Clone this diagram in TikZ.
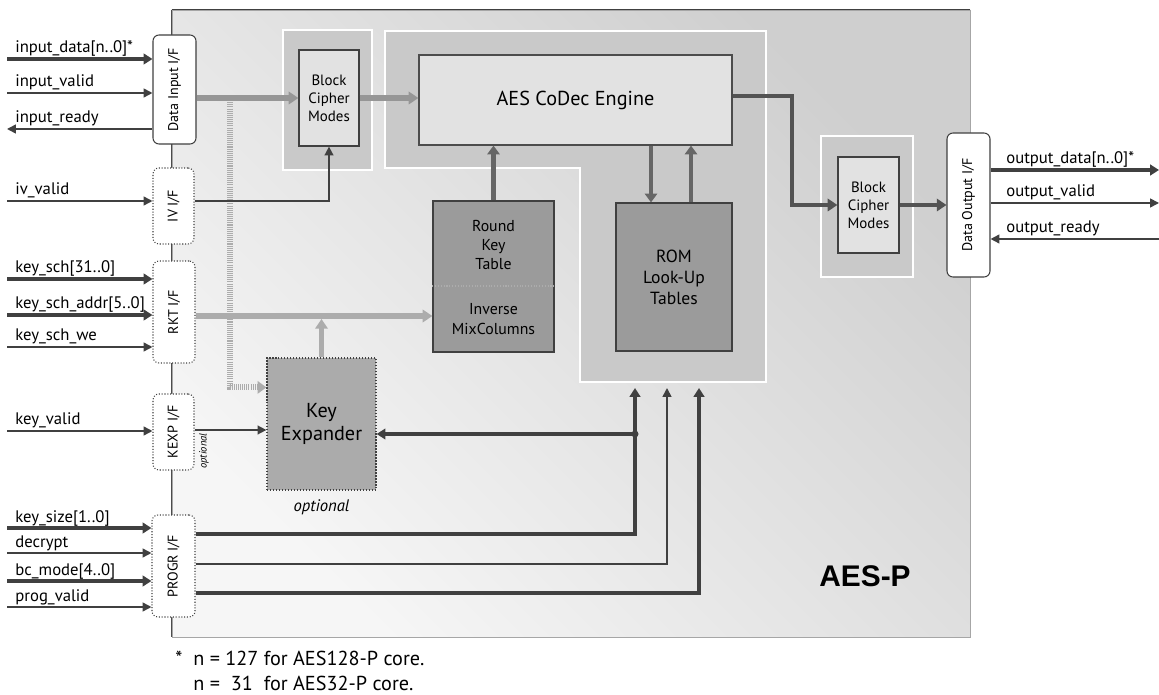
\documentclass[tikz,border=0pt]{standalone}
\usepackage{fontspec}
\setmainfont{PT Sans}
\newfontfamily\arialfont{Liberation Sans}
\usepackage{graphicx}
\usetikzlibrary{arrows.meta,positioning,calc}
\definecolor{wireDark}{RGB}{64,64,64}
\definecolor{pathGray}{RGB}{150,150,150}
\definecolor{keyGray}{RGB}{172,172,172}
\definecolor{engArrow}{RGB}{102,102,102}
\definecolor{regionGray}{RGB}{201,201,201}
\definecolor{lightBox}{RGB}{226,226,226}
\definecolor{darkBox}{RGB}{155,155,155}
\definecolor{kexpGray}{RGB}{171,171,171}
\newdimen\pxu \pxu=0.02cm

\begin{document}
\begin{tikzpicture}[x=\pxu, y=-\pxu,
    every node/.style={font=\fontsize{9.5}{11}\selectfont, inner sep=0pt},
    ifbox/.style={draw=wireDark, fill=white, rounded corners=6\pxu, line width=0.6pt, font=\fontsize{8}{9.6}\selectfont},
    optif/.style={ifbox, densely dotted},
    frame/.style={draw=white, fill=regionGray, line width=1.4pt},
    blk/.style={draw=wireDark, line width=0.7pt, align=center},
    sig/.style={draw=wireDark, line width=0.9pt, -{Triangle[length=5pt,width=5pt]}},
    sigout/.style={sig, {Triangle[length=5pt,width=5pt]}-},
    bus/.style={draw=wireDark, line width=2.3pt, -{Triangle[length=5pt,width=6pt]}},
    datapath/.style={draw=pathGray, line width=3.4pt, -{Triangle[length=5.5pt,width=7pt]}},
    keypath/.style={draw=keyGray, line width=3pt, -{Triangle[length=5.5pt,width=7pt]}},
    engpath/.style={draw=engArrow, line width=2.4pt, -{Triangle[length=5pt,width=7pt]}},
    outpath/.style={draw=wireDark!90, line width=2.8pt, -{Triangle[length=5.5pt,width=7pt]}},
    lbl/.style={anchor=base west}]
    \useasboundingbox (0,0) rectangle (1159,695);

    \node[draw=gray!70, line width=0.5pt, top color=gray!38, bottom color=gray!7, shading angle=-45,
          minimum width=798\pxu, minimum height=627\pxu] (core) at (571,323.5) {};
    \draw[wireDark, line width=1pt] (core.north west) -- (core.north east);
    \draw[gray!60!black, line width=0.6pt] (core.north west) -- (core.south west);

    \draw[frame] (385,31) -- (766,31) -- (766,382) -- (580,382) -- (580,168) -- (385,168) -- cycle;
    \node[frame, minimum width=89\pxu, minimum height=140\pxu] (bcmAf) at (327.5,100) {};
    \node[frame, minimum width=92\pxu, minimum height=141\pxu] (bcmBf) at (867,206.5) {};

    \node[blk, fill=lightBox, minimum width=60\pxu, minimum height=96\pxu, font=\fontsize{8.5}{10.2}\selectfont] (bcmA) at (329,98) {Block\\Cipher\\Modes};
    \node[blk, fill=lightBox, minimum width=61\pxu, minimum height=96\pxu, font=\fontsize{8.5}{10.2}\selectfont] (bcmB) at (868.5,205) {Block\\Cipher\\Modes};
    \node[blk, draw=gray!60!black, fill=lightBox, minimum width=313\pxu, minimum height=90\pxu, font=\fontsize{11.5}{13}\selectfont] (engine) at (575.5,100) {AES CoDec Engine};
    \node[blk, fill=darkBox, minimum width=121\pxu, minimum height=151\pxu] (rkt) at (493.5,276.5) {};
    \node[align=center, font=\fontsize{9}{11}\selectfont] (rktTop) at (493.5,245) {Round\\Key\\Table};
    \node[align=center, font=\fontsize{9}{11}\selectfont] (rktBot) at (493.5,319) {Inverse\\MixColumns};
    \draw[gray!65, densely dotted, line width=0.6pt] (rkt.west |- 0,286) -- (rkt.east |- 0,286);
    \node[blk, fill=darkBox, minimum width=116\pxu, minimum height=148\pxu, font=\fontsize{10}{12}\selectfont] (rom) at (674,277) {ROM\\Look-Up\\Tables};
    \node[blk, fill=kexpGray, densely dotted, minimum width=109\pxu, minimum height=132\pxu, font=\fontsize{11.5}{13.5}\selectfont] (kexp) at (321.5,424) {Key\\Expander};
    \node[below=9\pxu of kexp, font=\itshape\fontsize{9.5}{11}\selectfont] (kexpNote) {optional};

    \coordinate (tap) at (230,98);
    \draw[keyGray, line width=3.4pt, dash pattern=on 0.6pt off 0.6pt, -{Triangle[length=5pt,width=7pt]}]
        (tap) |- ($(kexp.north west)+(0,30)$);

    \node[ifbox, minimum width=43\pxu, minimum height=109\pxu] (dii) at (174.5,89.5) {\rotatebox{90}{Data Input I/F}};
    \node[optif, minimum width=41\pxu, minimum height=76\pxu] (ivif) at (173.5,206) {\rotatebox{90}{IV I/F}};
    \node[optif, minimum width=42\pxu, minimum height=102\pxu] (rktif) at (174,312) {\rotatebox{90}{RKT I/F}};
    \node[optif, minimum width=41\pxu, minimum height=76\pxu] (kexpif) at (173.5,432) {\rotatebox{90}{KEXP I/F}};
    \node[optif, minimum width=43\pxu, minimum height=102\pxu] (progif) at (173.5,566) {\rotatebox{90}{PROGR I/F}};
    \node[ifbox, minimum width=43\pxu, minimum height=144\pxu] (doi) at (968.5,205) {\rotatebox{90}{Data Output I/F}};
    \node[rotate=90, font=\itshape\fontsize{6}{7}\selectfont] (kexpifNote) at (204,451) {optional};

    \draw[datapath] (dii.east |- bcmA.west) -- (bcmA.west);
    \draw[datapath] (bcmA.east) -- (bcmA.east -| engine.west);
    \draw[sig] (ivif.east |- 0,201) -| (bcmA.south);
    \draw[keypath] (rktif.east |- 0,316) -- (rkt.west |- 0,316);
    \draw[keypath] (kexp.north) -- (kexp.north |- 0,319);
    \draw[sig] (kexpif.east |- 0,430) -- (kexp.west |- 0,430);
    \draw[engpath] (rkt.north) -- (rkt.north |- engine.south);
    \draw[engpath] (engine.south -| 651,0) -- (rom.north -| 651,0);
    \draw[engpath] (rom.north -| 691,0) -- (engine.south -| 691,0);
    \draw[outpath] (engine.east |- 0,96) -| (792,150) |- (bcmB.west);
    \draw[outpath] (bcmB.east) -- (bcmB.east -| doi.west);

    \coordinate (jn) at (635,434);
    \coordinate (pgA) at (635,388);
    \coordinate (pgB) at (667,388);
    \coordinate (pgC) at (699,388);
    \draw[bus] (jn) -- (jn -| kexp.east);
    \fill[wireDark] (jn) circle (3.5\pxu);
    \draw[bus] (progif.east |- 0,534) -| (pgA);
    \draw[sig] (progif.east |- 0,564) -| (pgB);
    \draw[bus] (progif.east |- 0,593) -| (pgC);

    \foreach \nm/\y/\st/\tgt/\txt in {in1/59/bus/dii/input\_data[n..0]*, in2/93/sig/dii/input\_valid,
        in3/129/sigout/dii/input\_ready, iv/201/sig/ivif/iv\_valid, ks1/279/bus/rktif/key\_sch[31..0],
        ks2/315/bus/rktif/key\_sch\_addr[5..0], ks3/347/sig/rktif/key\_sch\_we, kv/431/sig/kexpif/key\_valid,
        pg1/528/bus/progif/key\_size[1..0], pg2/553/sig/progif/decrypt, pg3/581/bus/progif/bc\_mode[4..0],
        pg4/607/sig/progif/prog\_valid}{
        \coordinate (s\nm) at (7,\y);
        \draw[\st] (s\nm) -- (s\nm -| \tgt.west);
        \node[lbl] (l\nm) at ({15},{\y-6}) {\txt};
    }
    \foreach \nm/\y/\st/\txt in {od/170/bus/output\_data[n..0]*, ov/203/sig/output\_valid, or/239/sigout/output\_ready}{
        \coordinate (s\nm) at (1159,\y);
        \draw[\st] (s\nm -| doi.east) -- (s\nm);
        \node[lbl] (l\nm) at ({1006},{\y-6}) {\txt};
    }

    \node[font=\arialfont\bfseries\fontsize{17}{20}\selectfont] (coreName) at (865,576) {AES-P};
    \node[anchor=base west, font=\fontsize{11.5}{13}\selectfont] (fnStar) at (175,665) {*};
    \node[anchor=base west, font=\fontsize{11.5}{13}\selectfont] (fnA) at (193,665) {n = 127 for AES128-P core.};
    \node[anchor=base west, font=\fontsize{11.5}{13}\selectfont] (fnB) at (193,690) {n = {\setbox0\hbox{127}\makebox[\wd0]{31}} for AES32-P core.};
\end{tikzpicture}
\end{document}
